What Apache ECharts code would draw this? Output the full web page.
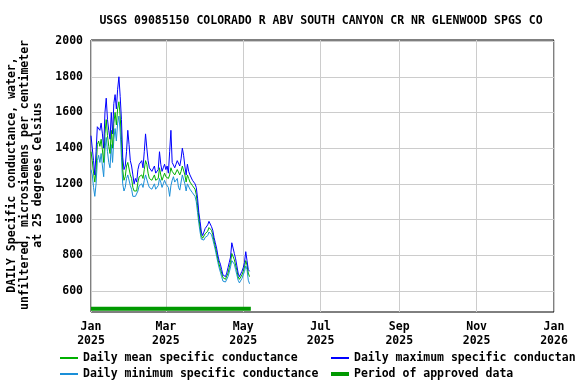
<!DOCTYPE html>
<html><head><meta charset="utf-8">
<script src="https://cdn.jsdelivr.net/npm/echarts@6/dist/echarts.min.js"></script>
<style>html,body{margin:0;padding:0;background:#fff}#c{width:576px;height:384px}</style>
</head><body><div id="c"></div>
<script>
// ---- data (daily values starting 2025-01-01) ----
const startDate = '2025-01-01';
const endDate = '2026-01-01';
const dailyMax = [1470,1400,1330,1250,1380,1520,1530,1500,1540,1480,1400,1600,1680,1560,1500,1450,1600,1480,1650,1700,
1620,1730,1800,1690,1560,1350,1280,1300,1380,1500,1420,1330,1300,1250,1200,1230,1210,1280,1310,1300,
1330,1290,1380,1480,1400,1330,1290,1300,1270,1280,1300,1260,1250,1280,1380,1310,1270,1290,1310,1280,
1300,1260,1380,1500,1320,1330,1290,1310,1330,1320,1300,1340,1400,1360,1300,1250,1310,1270,1250,1240,
1220,1210,1200,1180,1120,1040,990,930,910,930,950,940,970,990,1000,960,940,900,870,840,
800,770,750,720,690,700,680,700,730,760,790,870,840,810,780,740,700,680,690,710,
730,760,820,770,720,710];
const dailyMean = [1380,1330,1260,1210,1280,1420,1440,1410,1450,1390,1320,1480,1560,1470,1410,1370,1500,1400,1540,1600,
1530,1620,1660,1580,1450,1280,1220,1240,1300,1320,1310,1250,1230,1180,1160,1170,1160,1210,1240,1230,
1250,1230,1280,1330,1310,1260,1230,1240,1220,1230,1250,1220,1210,1230,1290,1250,1220,1240,1260,1240,
1250,1230,1250,1290,1270,1280,1250,1260,1280,1270,1250,1270,1300,1290,1250,1210,1250,1230,1210,1200,
1190,1180,1170,1140,1080,1010,960,910,895,905,920,915,935,955,965,940,915,880,850,815,
780,750,725,700,675,680,665,675,700,730,760,810,800,775,745,715,680,665,670,690,
710,735,770,745,700,680];
const dailyMin = [1280,1250,1180,1130,1200,1330,1360,1320,1370,1300,1240,1390,1460,1380,1320,1290,1420,1320,1450,1510,
1440,1540,1580,1490,1350,1200,1160,1180,1230,1250,1240,1190,1170,1130,1120,1130,1120,1160,1190,1180,
1200,1180,1220,1250,1240,1200,1180,1190,1170,1180,1200,1170,1160,1190,1230,1210,1180,1200,1220,1200,
1210,1180,1130,1190,1220,1240,1210,1220,1230,1180,1165,1210,1250,1240,1200,1160,1200,1190,1170,1160,
1150,1140,1130,1100,1040,980,930,890,880,885,900,895,910,930,940,915,890,860,830,795,
760,730,705,680,655,660,650,655,680,705,735,770,770,750,720,690,660,645,650,670,
690,710,740,720,660,640];
const approvedPeriod = ['2025-01-01', '2025-05-07'];
const approvedLevel = 500;
const tickDates = ['2025-01-01','2025-03-01','2025-05-01','2025-07-01','2025-09-01','2025-11-01','2026-01-01'];
const tickLabels = ['Jan\n2025','Mar\n2025','May\n2025','Jul\n2025','Sep\n2025','Nov\n2025','Jan\n2026'];
const yTicks = [600,800,1000,1200,1400,1600,1800,2000];

// category axis of days
const days = [];
{
  const d = new Date(startDate + 'T00:00:00Z');
  const e = new Date(endDate + 'T00:00:00Z');
  while (d <= e) { days.push(d.toISOString().slice(0,10)); d.setUTCDate(d.getUTCDate()+1); }
}
const isTick = (i, v) => tickDates.indexOf(v) >= 0;

const FONT = 'DejaVu Sans Mono';
const FS = 11.5;
const C_MEAN = '#00b000', C_MAX = '#0000ff', C_MIN = '#1a8fd8', C_APP = '#009900';
const chart = echarts.init(document.getElementById('c'));
const legendBase = (left, top, name, h, color) => ({
  left, top, padding: 0, icon: 'rect', itemWidth: 18, itemHeight: h, itemGap: 0,
  selectedMode: false, data: [name],
  itemStyle: {color: color, borderWidth: 0},
  lineStyle: {width: 0},
  textStyle: {fontFamily: FONT, fontWeight: 'bold', fontSize: FS, color: '#000'}
});
chart.setOption({
  animation: false,
  backgroundColor: '#fff',
  title: {
    text: 'USGS 09085150 COLORADO R ABV SOUTH CANYON CR NR GLENWOOD SPGS CO',
    left: 316, top: 10, textAlign: 'center',
    textStyle: {fontFamily: FONT, fontWeight: 'bold', fontSize: FS, color: '#000'}
  },
  grid: {left: 91, right: 22, top: 40, bottom: 72, show: true, borderColor: '#000', borderWidth: 1, containLabel: false},
  legend: [
    legendBase(60, 352, 'Daily mean specific conductance', 2, C_MEAN),
    legendBase(331, 352, 'Daily maximum specific conductance', 2, C_MAX),
    legendBase(60, 368, 'Daily minimum specific conductance', 2, C_MIN),
    legendBase(331, 368, 'Period of approved data', 4, C_APP)
  ],
  xAxis: {
    type: 'category', data: days, boundaryGap: false,
    axisLine: {show: false}, axisTick: {show: false},
    splitLine: {show: true, interval: isTick, lineStyle: {color: '#cccccc', width: 1}},
    axisLabel: {interval: isTick, margin: 8, color: '#000', fontFamily: FONT, fontWeight: 'bold', fontSize: FS, lineHeight: 14,
      formatter: v => tickLabels[tickDates.indexOf(v)] || ''}
  },
  yAxis: {
    type: 'value', min: 482, max: 2006,
    axisLine: {show: false}, axisTick: {show: false, customValues: yTicks},
    splitLine: {show: true, lineStyle: {color: '#cccccc', width: 1}},
    axisLabel: {customValues: yTicks, margin: 8, color: '#000', fontFamily: FONT, fontWeight: 'bold', fontSize: FS,
      formatter: v => String(v)}
  },
  graphic: [{
    type: 'text', x: 25, y: 175, rotation: Math.PI/2,
    style: {
      text: 'DAILY Specific conductance, water,\nunfiltered, microsiemens per centimeter\nat 25 degrees Celsius',
      fontFamily: FONT, fontWeight: 'bold', fontSize: FS, lineHeight: 13, fill: '#000',
      align: 'center', verticalAlign: 'middle'
    }
  }],
  series: [
    {name: 'Daily minimum specific conductance', type: 'line', data: dailyMin, showSymbol: false, symbol: 'none',
      lineStyle: {color: C_MIN, width: 1}, itemStyle: {color: C_MIN}},
    {name: 'Daily mean specific conductance', type: 'line', data: dailyMean, showSymbol: false, symbol: 'none',
      lineStyle: {color: C_MEAN, width: 1}, itemStyle: {color: C_MEAN}},
    {name: 'Daily maximum specific conductance', type: 'line', data: dailyMax, showSymbol: false, symbol: 'none',
      lineStyle: {color: C_MAX, width: 1}, itemStyle: {color: C_MAX}},
    {name: 'Period of approved data', type: 'line', symbol: 'none', showSymbol: false,
      data: approvedPeriod.map(d => [d, approvedLevel]),
      lineStyle: {color: C_APP, width: 4}, itemStyle: {color: C_APP}}
  ]
});
</script></body></html>
